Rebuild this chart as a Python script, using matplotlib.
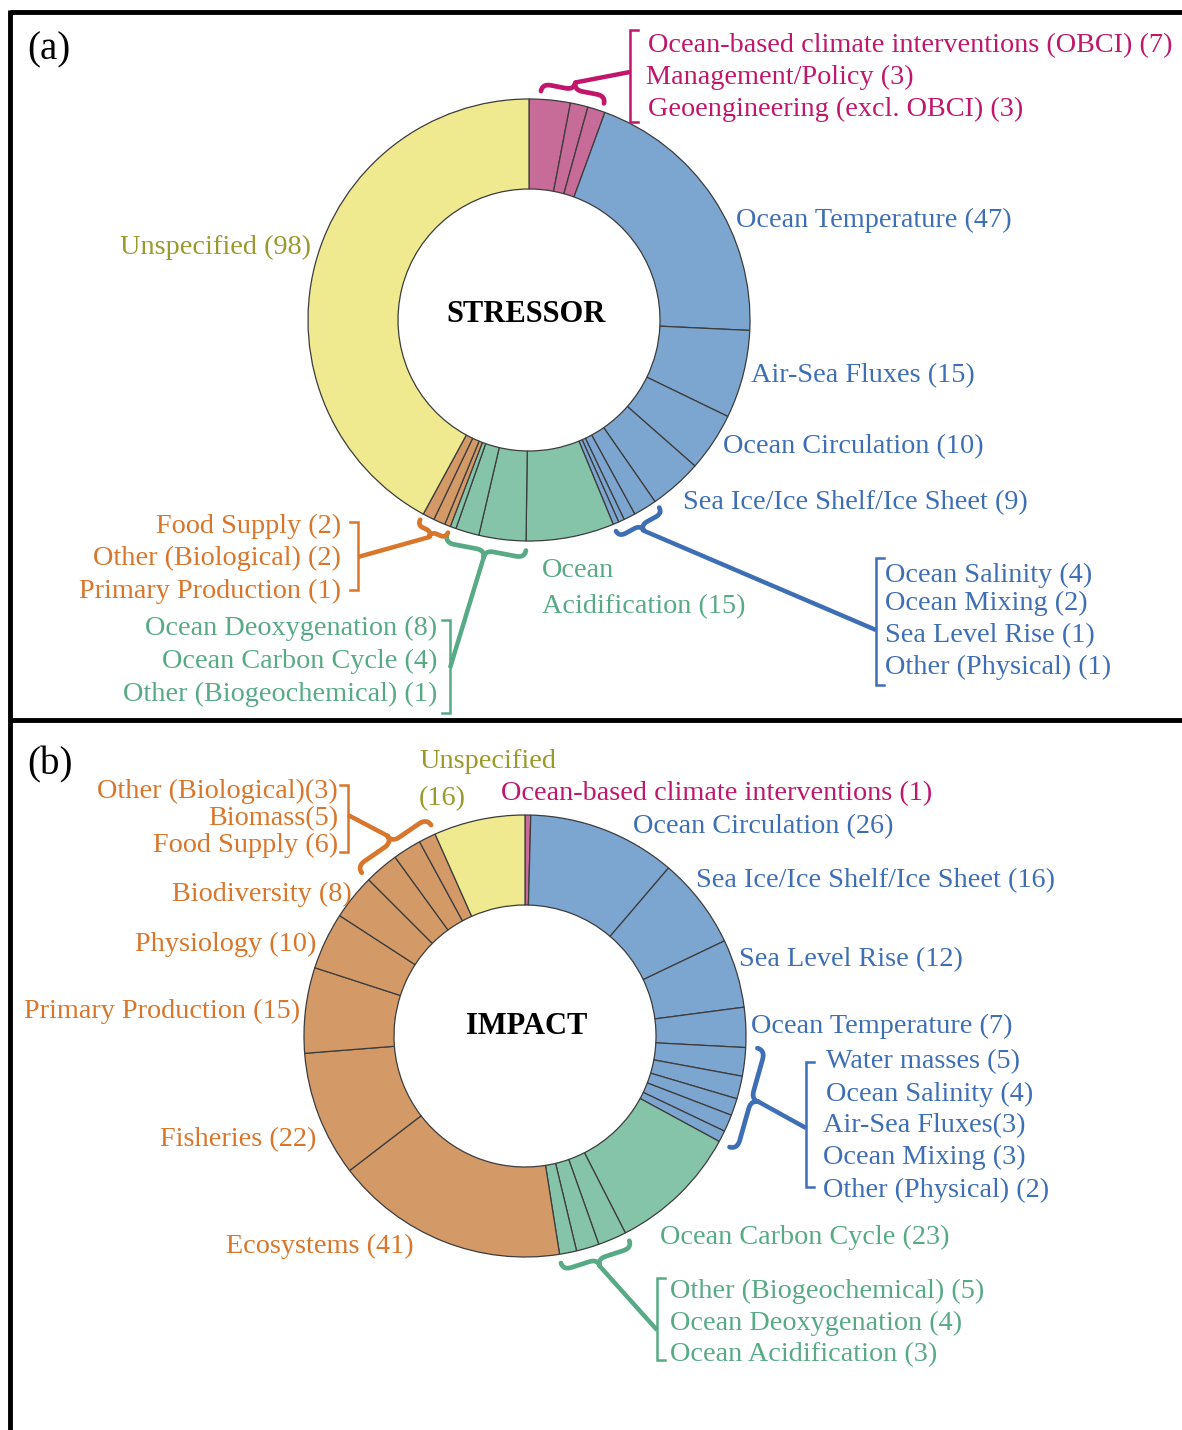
import numpy as np
import matplotlib.pyplot as plt

W, H = 1182, 1430

# (a) stressor categories, clockwise from 12 o'clock
stress_names = ["Ocean-based climate interventions (OBCI)", "Management/Policy",
                "Geoengineering (excl. OBCI)",
                "Ocean Temperature", "Air-Sea Fluxes", "Ocean Circulation",
                "Sea Ice/Ice Shelf/Ice Sheet", "Ocean Salinity", "Ocean Mixing",
                "Sea Level Rise", "Other (Physical)",
                "Ocean Acidification", "Ocean Deoxygenation", "Ocean Carbon Cycle",
                "Other (Biogeochemical)",
                "Primary Production", "Other (Biological)", "Food Supply",
                "Unspecified"]
stress_values = [7, 3, 3, 47, 15, 10, 9, 4, 2, 1, 1, 15, 8, 4, 1, 1, 2, 2, 98]
stress_groups = ["mgmt"] * 3 + ["phys"] * 8 + ["bgc"] * 4 + ["bio"] * 3 + ["uns"]

# (b) impact categories, clockwise from 12 o'clock
impact_names = ["Ocean-based climate interventions",
                "Ocean Circulation", "Sea Ice/Ice Shelf/Ice Sheet", "Sea Level Rise",
                "Ocean Temperature", "Water masses", "Ocean Salinity", "Air-Sea Fluxes",
                "Ocean Mixing", "Other (Physical)",
                "Ocean Carbon Cycle", "Other (Biogeochemical)", "Ocean Deoxygenation",
                "Ocean Acidification",
                "Ecosystems", "Fisheries", "Primary Production", "Physiology",
                "Biodiversity", "Food Supply", "Biomass", "Other (Biological)",
                "Unspecified"]
impact_values = [1, 26, 16, 12, 7, 5, 4, 3, 3, 2, 23, 5, 4, 3, 41, 22, 15, 10, 8, 6, 5, 3, 16]
impact_groups = ["mgmt"] + ["phys"] * 9 + ["bgc"] * 4 + ["bio"] * 8 + ["uns"]
impact_tight = ["Air-Sea Fluxes", "Biomass", "Other (Biological)"]  # printed without a space

wedge_col = {"mgmt": "#c76b98", "phys": "#7ca6cf", "bgc": "#86c4a9",
             "bio": "#d39a68", "uns": "#efe990"}
text_col = {"mgmt": "#c0176c", "phys": "#3e6fb5", "bgc": "#58aa87",
            "bio": "#d8762b", "uns": "#999a2a"}

plt.rcParams['font.family'] = ['Liberation Serif', 'DejaVu Serif']
FS = 20.3
DY = 2.5  # baseline nudge for va='center'
R_OUT, R_IN = 221, 131

fig = plt.figure(figsize=(W / 100, H / 100), dpi=100)
ax = fig.add_axes([0, 0, 1, 1])


def label_text(names, values, tight=()):
    out = {}
    for n, v in zip(names, values):
        out[n] = f"{n}({v})" if n in tight else f"{n} ({v})"
    return out


def point(c, r, ang):
    a = np.deg2rad(ang)
    return np.array([c[0] + r * np.sin(a), c[1] - r * np.cos(a)])


def angles(values):
    cum = np.concatenate([[0], np.cumsum(values)])
    return 360.0 * cum / cum[-1]


def donut(values, groups, c):
    ax.pie(values, colors=[wedge_col[g] for g in groups], center=c, radius=R_OUT,
           startangle=-90, counterclock=True, frame=True,
           wedgeprops=dict(width=R_OUT - R_IN, edgecolor='#3c3c3c', linewidth=0.9))


def qbez(p0, p1, p2, n=16):
    t = np.linspace(0, 1, n)[:, None]
    p0, p1, p2 = map(np.asarray, (p0, p1, p2))
    return (1 - t) ** 2 * p0 + 2 * (1 - t) * t * p1 + t ** 2 * p2


def brace(c, a0, a1, color, gap=6, h=15, lw=3.4):
    half = np.deg2rad(abs(a1 - a0) / 2)
    rb = (R_OUT + gap) / np.cos(half)
    p0, p1 = point(c, rb, a0), point(c, rb, a1)
    L = np.linalg.norm(p1 - p0)
    t = (p1 - p0) / L
    mid = (p0 + p1) / 2
    n = (mid - np.array(c)) / np.linalg.norm(mid - np.array(c))
    q = min(h * 0.6, L / 5)
    hh = h / 2
    first = np.vstack([qbez((0, 0), (0, hh), (q, hh)),
                       qbez((L / 2 - q, hh), (L / 2, hh), (L / 2, h))])
    second = first[::-1].copy()
    second[:, 0] = L - second[:, 0]
    pts = np.vstack([first, second])
    xy = p0 + pts[:, :1] * t + pts[:, 1:] * n
    ax.plot(xy[:, 0], xy[:, 1], color=color, lw=lw, solid_capstyle='round',
            solid_joinstyle='round')
    return p0 + (L / 2) * t + h * n


def bracket(x, y0, y1, side, color, tick=8, lw=1.8):
    d = tick if side == 'right' else -tick
    ax.plot([x + d, x, x, x + d], [y0, y0, y1, y1], color=color, lw=lw,
            solid_joinstyle='miter')


def connect(tip, x, y, color, lw=3.2):
    ax.plot([tip[0], x], [tip[1], y], color=color, lw=lw, solid_capstyle='butt')


def put(txt, x, y, color, ha='left'):
    ax.text(x, y + DY, txt, color=color, fontsize=FS, ha=ha, va='center')


# ---------------- (a) STRESSOR ----------------
ca = (529, 320)
donut(stress_values, stress_groups, ca)
aa = angles(stress_values)
la = label_text(stress_names, stress_values)
gcol = dict(zip(stress_names, stress_groups))

layout_a = {
    "Ocean-based climate interventions (OBCI)": (648, 43, 'left'),
    "Management/Policy": (646, 75, 'left'),
    "Geoengineering (excl. OBCI)": (648, 107, 'left'),
    "Ocean Temperature": (736, 218, 'left'),
    "Air-Sea Fluxes": (751, 373, 'left'),
    "Ocean Circulation": (723, 444, 'left'),
    "Sea Ice/Ice Shelf/Ice Sheet": (683, 500, 'left'),
    "Ocean Salinity": (885, 573, 'left'),
    "Ocean Mixing": (885, 601, 'left'),
    "Sea Level Rise": (885, 633, 'left'),
    "Other (Physical)": (885, 665, 'left'),
    "Ocean Deoxygenation": (437, 626, 'right'),
    "Ocean Carbon Cycle": (437, 659, 'right'),
    "Other (Biogeochemical)": (437, 692, 'right'),
    "Food Supply": (341, 524, 'right'),
    "Other (Biological)": (341, 556, 'right'),
    "Primary Production": (341, 589, 'right'),
    "Unspecified": (311, 245, 'right'),
}
for n, (x, y, ha) in layout_a.items():
    put(la[n], x, y, text_col[gcol[n]], ha)
acid = la["Ocean Acidification"].split(" ", 1)
put(acid[0], 542, 568, text_col["bgc"])
put(acid[1], 542, 604, text_col["bgc"])

ax.text(526, 315, "STRESSOR", fontsize=22, fontweight='bold', ha='center', va='center')

tip = brace(ca, aa[0] + 3, aa[3] - 1, text_col["mgmt"])
bracket(630, 30, 122, 'right', text_col["mgmt"])
connect(tip, 630, 72, text_col["mgmt"])

tip = brace(ca, aa[7], aa[11], text_col["phys"], h=13)
bracket(876, 558, 685, 'right', text_col["phys"])
connect(tip, 876, 630, text_col["phys"])

tip = brace(ca, aa[12], aa[15], text_col["bgc"])
bracket(450, 620, 713, 'left', text_col["bgc"])
connect(tip, 450, 668, text_col["bgc"])

tip = brace(ca, aa[15], aa[18], text_col["bio"], h=12)
bracket(358, 522, 590, 'left', text_col["bio"])
connect(tip, 358, 557, text_col["bio"])

# ---------------- (b) IMPACT ----------------
cb = (525, 1036)
donut(impact_values, impact_groups, cb)
ab = angles(impact_values)
lb = label_text(impact_names, impact_values, impact_tight)
gcol = dict(zip(impact_names, impact_groups))

layout_b = {
    "Ocean-based climate interventions": (501, 791, 'left'),
    "Ocean Circulation": (633, 824, 'left'),
    "Sea Ice/Ice Shelf/Ice Sheet": (696, 878, 'left'),
    "Sea Level Rise": (739, 957, 'left'),
    "Ocean Temperature": (751, 1024, 'left'),
    "Water masses": (826, 1059, 'left'),
    "Ocean Salinity": (826, 1092, 'left'),
    "Air-Sea Fluxes": (823, 1123, 'left'),
    "Ocean Mixing": (823, 1155, 'left'),
    "Other (Physical)": (823, 1188, 'left'),
    "Ocean Carbon Cycle": (660, 1235, 'left'),
    "Other (Biogeochemical)": (670, 1289, 'left'),
    "Ocean Deoxygenation": (670, 1321, 'left'),
    "Ocean Acidification": (670, 1352, 'left'),
    "Ecosystems": (414, 1244, 'right'),
    "Fisheries": (316, 1137, 'right'),
    "Primary Production": (300, 1009, 'right'),
    "Physiology": (316, 942, 'right'),
    "Biodiversity": (352, 892, 'right'),
    "Other (Biological)": (338, 789, 'right'),
    "Biomass": (338, 816, 'right'),
    "Food Supply": (338, 843, 'right'),
}
for n, (x, y, ha) in layout_b.items():
    put(lb[n], x, y, text_col[gcol[n]], ha)
uns = lb["Unspecified"].split(" ", 1)
put(uns[0], 419, 759, text_col["uns"])
put(uns[1], 419, 796, text_col["uns"])

ax.text(527, 1027, "IMPACT", fontsize=22, fontweight='bold', ha='center', va='center')

tip = brace(cb, ab[5], ab[10], text_col["phys"], h=16)
bracket(806, 1062, 1187, 'right', text_col["phys"])
connect(tip, 806, 1128, text_col["phys"])

tip = brace(cb, ab[11], ab[14], text_col["bgc"])
bracket(657, 1278, 1360, 'right', text_col["bgc"])
connect(tip, 657, 1330, text_col["bgc"])

tip = brace(cb, ab[19], ab[22], text_col["bio"], h=16)
bracket(348, 785, 852, 'left', text_col["bio"])
connect(tip, 348, 815, text_col["bio"])

# panel letters and frame
ax.text(27, 50, "(a)", fontsize=28, ha='left', va='center')
ax.text(27, 765, "(b)", fontsize=28, ha='left', va='center')
ax.plot([10, W], [12, 12], color='black', lw=3.5, solid_capstyle='butt')
ax.plot([10, W], [720, 720], color='black', lw=3.5, solid_capstyle='butt')
ax.plot([10, 10], [10, H], color='black', lw=3.5, solid_capstyle='butt')

ax.set_xlim(0, W)
ax.set_ylim(H, 0)
ax.set_aspect('auto')
ax.axis('off')

fig.savefig("out.png", dpi=100)
